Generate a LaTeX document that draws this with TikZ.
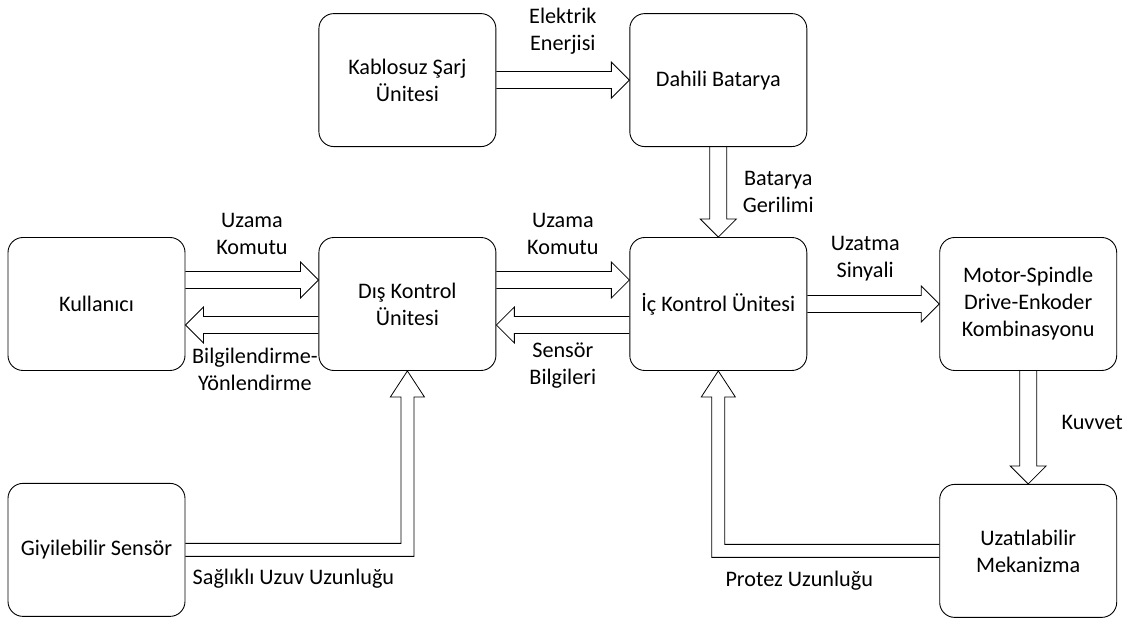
\documentclass[tikz,border=0pt]{standalone}
\usepackage{fontspec}
\setmainfont{Carlito}
\usetikzlibrary{arrows,positioning,calc}
\tikzset{
	%Define style for boxes
	unitBox/.style={
		rectangle,
		rounded corners=15pt,
		draw=black, line width=0.9pt,
		minimum width=177pt,
		minimum height=133pt,
		inner sep=0pt,
		align=center,
		font=\fontsize{22.2}{27}\selectfont},
	% Define style for arrow labels
	labelStyle/.style={
		align=center,
		inner sep=0pt,
		font=\fontsize{22.2}{27}\selectfont},
	% Define outline style of the block arrows
	blockLine/.style={
		draw=black,
		line width=0.8pt,
		line join=miter}
}
% straight block arrow from #1 to #2
\newcommand{\blockArrow}[2]{
	\coordinate (baS) at (#1);
	\coordinate (baE) at (#2);
	\coordinate (baB) at ($(baE)!18pt!(baS)$);
	\draw[blockLine] ($(baS)!8.5pt!90:(baE)$) -- ($(baB)!8.5pt!90:(baE)$) -- ($(baB)!18pt!90:(baE)$) -- (baE)
		-- ($(baB)!18pt!-90:(baE)$) -- ($(baB)!8.5pt!-90:(baE)$) -- ($(baS)!8.5pt!-90:(baE)$);
}
% block arrow with one corner: from #1 over #2 to #3
\newcommand{\blockElbow}[3]{
	\coordinate (beS) at (#1);
	\coordinate (beC) at (#2);
	\coordinate (beE) at (#3);
	\coordinate (beB) at ($(beE)!26pt!(beC)$);
	\draw[blockLine] ($(beS)!6.5pt!90:(beC)$) -- ($(beC)!6.5pt!90:(beE) + (beS)!6.5pt!90:(beC) - (beS)$)
		-- ($(beB)!6.5pt!90:(beE)$) -- ($(beB)!17pt!90:(beE)$) -- (beE) -- ($(beB)!17pt!-90:(beE)$)
		-- ($(beB)!6.5pt!-90:(beE)$) -- ($(beC)!6.5pt!-90:(beE) + (beS)!6.5pt!-90:(beC) - (beS)$)
		-- ($(beS)!6.5pt!-90:(beC)$);
}

\begin{document}
\begin{tikzpicture}[x=1pt,y=1pt]
		\useasboundingbox (0,0) rectangle (1136,618);
		
		%nodes
		\node[unitBox] (kullaniciNode) at (96.5,314) {Kullanıcı};
		\node[unitBox, right=133pt of kullaniciNode] (disKontrolNode) {Dış Kontrol\\Ünitesi};
		\node[unitBox, right=133pt of disKontrolNode] (icKontrolNode) {İç Kontrol Ünitesi};
		\node[unitBox, right=132pt of icKontrolNode] (motorNode) {Motor-Spindle\\Drive-Enkoder\\Kombinasyonu};
		\node[unitBox, above=90pt of disKontrolNode] (sarjNode) {Kablosuz Şarj\\Ünitesi};
		\node[unitBox, above=90pt of icKontrolNode] (bataryaNode) {Dahili Batarya};
		\node[unitBox, below=112pt of kullaniciNode] (sensorNode) {Giyilebilir Sensör};
		\node[unitBox, below=113pt of motorNode] (mekanizmaNode) {Uzatılabilir\\Mekanizma};
		
		%arrows
		\blockArrow{sarjNode.east}{bataryaNode.west}
		\blockArrow{bataryaNode.south}{icKontrolNode.north}
		\blockArrow{$(kullaniciNode.east)+(0,24)$}{$(disKontrolNode.west)+(0,24)$}
		\blockArrow{$(disKontrolNode.west)+(0,-21)$}{$(kullaniciNode.east)+(0,-21)$}
		\blockArrow{$(disKontrolNode.east)+(0,24)$}{$(icKontrolNode.west)+(0,24)$}
		\blockArrow{$(icKontrolNode.west)+(0,-21)$}{$(disKontrolNode.east)+(0,-21)$}
		\blockArrow{icKontrolNode.east}{motorNode.west}
		\blockArrow{motorNode.south}{mekanizmaNode.north}
		\blockElbow{sensorNode.east}{disKontrolNode.south |- sensorNode.east}{disKontrolNode.south}
		\blockElbow{mekanizmaNode.west}{icKontrolNode.south |- mekanizmaNode.west}{icKontrolNode.south}
		
		%labels
		\node[labelStyle] (elektrikLabel) at ($(sarjNode.east)!0.5!(bataryaNode.west)+(0,49)$) {Elektrik\\Enerjisi};
		\node[labelStyle] (bataryaLabel) at ($(bataryaNode.south)!0.5!(icKontrolNode.north)+(60,0)$) {Batarya\\Gerilimi};
		\node[labelStyle] (uzamaDisLabel) at ($(kullaniciNode.east)!0.5!(disKontrolNode.west)+(0,70)$) {Uzama\\Komutu};
		\node[labelStyle] (bilgiLabel) at ($(kullaniciNode.east)!0.5!(disKontrolNode.west)+(3,-65)$) {Bilgilendirme-\\Yönlendirme};
		\node[labelStyle] (uzamaIcLabel) at ($(disKontrolNode.east)!0.5!(icKontrolNode.west)+(0,70)$) {Uzama\\Komutu};
		\node[labelStyle] (sensorLabel) at ($(disKontrolNode.east)!0.5!(icKontrolNode.west)+(0,-62)$) {Sensör\\Bilgileri};
		\node[labelStyle] (uzatmaLabel) at ($(icKontrolNode.east)!0.5!(motorNode.west)+(-8,45)$) {Uzatma\\Sinyali};
		\node[labelStyle] (kuvvetLabel) at ($(motorNode.south)!0.5!(mekanizmaNode.north)+(64,5)$) {Kuvvet};
		\node[labelStyle] (protezLabel) at ($(mekanizmaNode.west)+(-140,-30)$) {Protez Uzunluğu};
		\node[labelStyle] (uzuvLabel) at ($(sensorNode.east)+(108,-29)$) {Sağlıklı Uzuv Uzunluğu};
		
\end{tikzpicture}
\end{document}
